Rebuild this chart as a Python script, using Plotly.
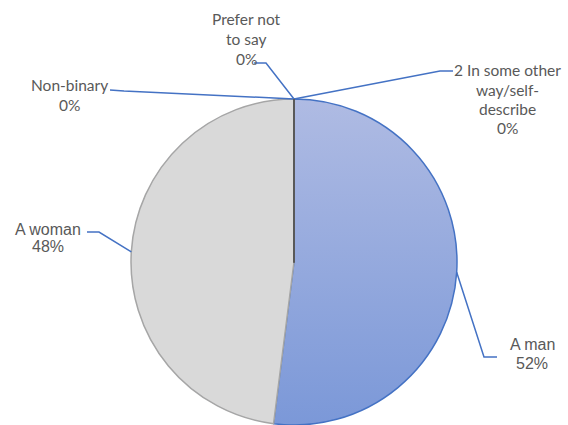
import math
import base64
import plotly.graph_objects as go

# ---------------- data ----------------
labels = ["A man", "A woman", "Non-binary", "Prefer not to say",
          "2 In some other way/self-describe"]
values = [52, 48, 0, 0, 0]
pct_text = ["52%", "48%", "0%", "0%", "0%"]
label_lines = [["A man"], ["A woman"], ["Non-binary"], ["Prefer not", "to say"],
               ["2 In some other", "way/self-", "describe"]]

# ---------------- layout constants (pixels) ----------------
W, H = 568, 425
CX, CY, R = 294, 262, 163
TEXT_COLOR = "#595959"
LEADER_COLOR = "#4472c4"

# label placement: centre x, baselines, font family, font size, leader elbow points
label_style = [
    dict(cx=532, base=[348, 367], fam="Liberation Sans, Arial", size=16,
         elbow=[(497, 357), (484, 357)]),
    dict(cx=48, base=[233, 250], fam="Liberation Sans, Arial", size=16,
         elbow=[(87, 232), (99, 232)]),
    dict(cx=69, base=[89, 109], fam="Lato", size=15.5,
         elbow=[(110, 90), (124, 91)]),
    dict(cx=246.5, base=[23, 43, 63], fam="Lato", size=15.5,
         elbow=[(254, 63), (266, 63)]),
    dict(cx=507, base=[74, 94, 113, 132], fam="Lato", size=15.5,
         elbow=[(453, 71), (440, 71)]),
]


def px(x):
    return x / W


def py(y):
    return 1 - y / H


# ---------------- pie ----------------
fig = go.Figure()
fig.add_trace(go.Pie(
    labels=labels, values=values, sort=False, direction="clockwise", rotation=0,
    textinfo="none", hoverinfo="skip", showlegend=False,
    marker=dict(colors=["rgba(0,0,0,0)", "#d9d9d9", "#d9d9d9", "#d9d9d9", "#d9d9d9"],
                line=dict(color=[LEADER_COLOR, "#a6a6a6", "#595959", "#595959", "#595959"],
                          width=1.5)),
    domain=dict(x=[px(CX - R), px(CX + R)], y=[py(CY + R), py(CY - R)]),
))

# gradient fill for the "A man" slice (disc under the pie; other slice is opaque)
svg = ('<svg xmlns="http://www.w3.org/2000/svg" viewBox="0 0 100 100" '
       'preserveAspectRatio="none"><defs><linearGradient id="g" x1="0" y1="0" '
       'x2="0" y2="1"><stop offset="0" stop-color="#afbbe3"/>'
       '<stop offset="1" stop-color="#7b98d8"/></linearGradient></defs>'
       '<circle cx="50" cy="50" r="50" fill="url(#g)"/></svg>')
src = "data:image/svg+xml;base64," + base64.b64encode(svg.encode()).decode()

images = [dict(source=src, xref="paper", yref="paper", x=px(CX - R), y=py(CY - R),
               sizex=2 * R / W, sizey=2 * R / H, sizing="stretch",
               xanchor="left", yanchor="top", layer="below")]

# ---------------- labels and leader lines ----------------
total = sum(values)
cum = 0
shapes = []
annotations = []
for i, v in enumerate(values):
    theta = math.radians(360 * (cum + 0.5 * v) / total)
    cum += v
    ax = CX + R * math.sin(theta)
    ay = CY - R * math.cos(theta)
    st = label_style[i]
    pts = st["elbow"] + [(ax, ay)]
    path = "M " + " L ".join(f"{px(x):.5f},{py(y):.5f}" for x, y in pts)
    shapes.append(dict(type="path", xref="paper", yref="paper", path=path,
                       line=dict(color=LEADER_COLOR, width=1.5)))
    lines = label_lines[i] + [pct_text[i]]
    for txt, b in zip(lines, st["base"]):
        annotations.append(dict(
            text=txt, xref="paper", yref="paper", x=px(st["cx"]),
            y=py(b - 0.25 * st["size"]), xanchor="center", yanchor="middle",
            showarrow=False, font=dict(family=st["fam"], size=st["size"], color=TEXT_COLOR)))

# dark border of the zero-width slices (from centre to their start angle at the top)
theta0 = math.radians(360 * (values[0] + values[1]) / total)
shapes.append(dict(type="line", xref="paper", yref="paper",
                   x0=px(CX), y0=py(CY),
                   x1=px(CX + R * math.sin(theta0)), y1=py(CY - R * math.cos(theta0)),
                   line=dict(color="#595959", width=2)))

fig.update_layout(
    width=W, height=H, margin=dict(l=0, r=0, t=0, b=0),
    paper_bgcolor="white", plot_bgcolor="white",
    shapes=shapes, annotations=annotations, images=images,
)

fig.write_html("out.html", config={"displayModeBar": False},
               post_script="document.body.style.margin='0';"
                           "document.body.style.overflow='hidden';")
